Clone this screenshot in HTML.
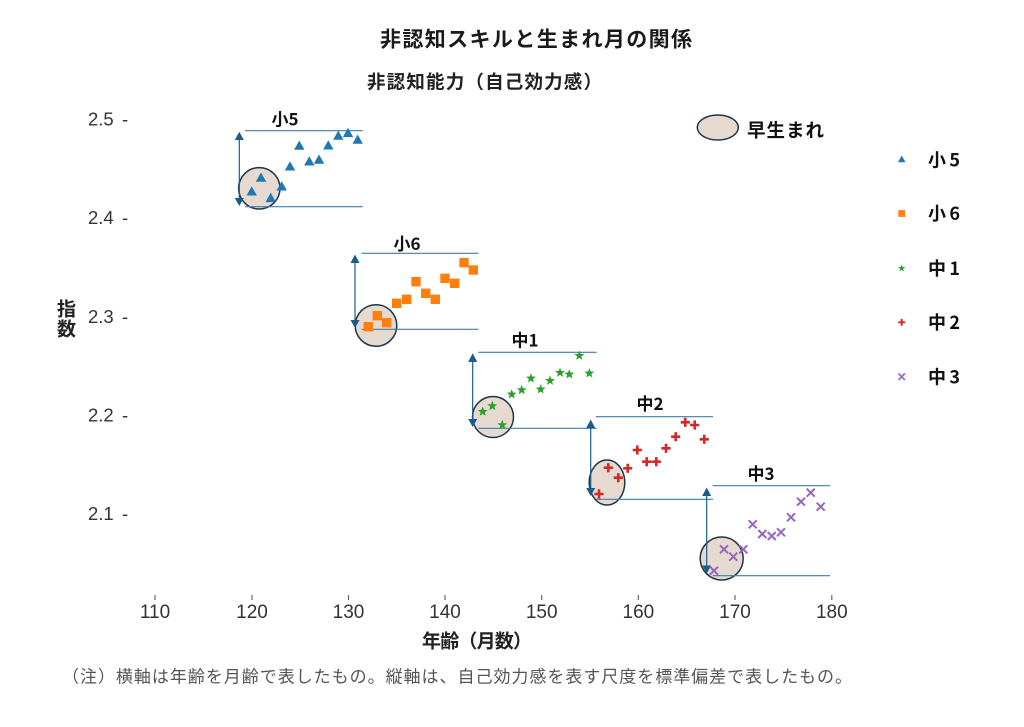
<!DOCTYPE html>
<html>
<head>
<meta charset="utf-8">
<style>
html,body{margin:0;padding:0;background:#fff;}
svg{display:block;}
text{font-family:"Liberation Sans","Noto Sans CJK JP",sans-serif;}
.cjk{font-family:"Noto Sans CJK JP","Liberation Sans",sans-serif;}
</style>
</head>
<body>
<svg width="1024" height="727" viewBox="0 0 1024 727" xmlns="http://www.w3.org/2000/svg">
<defs>
  <path id="tri" d="M0,-5.5 L5.2,3.8 L-5.2,3.8Z" fill="#1f77b4"/>
  <rect id="sq" x="-4.7" y="-4.7" width="9.4" height="9.4" fill="#ff7f0e"/>
  <polygon id="star" points="0,-5.2 1.29,-1.78 4.95,-1.61 2.09,0.68 3.06,4.21 0,2.2 -3.06,4.21 -2.09,0.68 -4.95,-1.61 -1.29,-1.78" fill="#2ca02c"/>
  <path id="plus" d="M-4.6,0 H4.6 M0,-4.6 V4.6" stroke="#d62728" stroke-width="2.6" fill="none"/>
  <path id="xx" d="M-4,-4 L4,4 M-4,4 L4,-4" stroke="#9467bd" stroke-width="2" fill="none"/>
</defs>
<rect width="1024" height="727" fill="#fff"/>

<!-- Titles -->
<text class="cjk" x="380" y="46.5" font-size="21" font-weight="bold" fill="#1a1a1a" textLength="312" lengthAdjust="spacing">非認知スキルと生まれ月の関係</text>
<text class="cjk" x="367" y="88.5" font-size="18.5" font-weight="bold" fill="#222" textLength="235" lengthAdjust="spacing">非認知能力（自己効力感）</text>

<!-- Y axis -->
<g font-size="18.5" fill="#333">
  <text x="88" y="125.5">2.5</text><text x="122" y="125.5">-</text>
  <text x="88" y="223.8">2.4</text><text x="122" y="223.8">-</text>
  <text x="88" y="323">2.3</text><text x="122" y="323">-</text>
  <text x="88" y="421.5">2.2</text><text x="122" y="421.5">-</text>
  <text x="88" y="519.8">2.1</text><text x="122" y="519.8">-</text>
</g>
<text class="cjk" x="57" y="315.5" font-size="19" font-weight="bold" fill="#222">指</text>
<text class="cjk" x="57" y="335.5" font-size="19" font-weight="bold" fill="#222">数</text>

<!-- X axis -->
<g stroke="#666" stroke-width="1.2">
  <line x1="155" y1="595" x2="155" y2="600"/>
  <line x1="252" y1="595" x2="252" y2="600"/>
  <line x1="348.5" y1="595" x2="348.5" y2="600"/>
  <line x1="445" y1="595" x2="445" y2="600"/>
  <line x1="541.7" y1="595" x2="541.7" y2="600"/>
  <line x1="638.4" y1="595" x2="638.4" y2="600"/>
  <line x1="735" y1="595" x2="735" y2="600"/>
  <line x1="831.8" y1="595" x2="831.8" y2="600"/>
</g>
<g font-size="19" fill="#333" text-anchor="middle">
  <text x="155" y="618">110</text>
  <text x="252" y="618">120</text>
  <text x="348.5" y="618">130</text>
  <text x="445" y="618">140</text>
  <text x="541.7" y="618">150</text>
  <text x="638.4" y="618">160</text>
  <text x="735" y="618">170</text>
  <text x="831.8" y="618">180</text>
</g>
<text class="cjk" x="422" y="647.5" font-size="19" font-weight="bold" fill="#222" textLength="110" lengthAdjust="spacing">年齢（月数）</text>
<text class="cjk" x="62" y="682.5" font-size="17" fill="#555" textLength="790" lengthAdjust="spacing">（注）横軸は年齢を月齢で表したもの。縦軸は、自己効力感を表す尺度を標準偏差で表したもの。</text>

<!-- Early-born circles -->
<g fill="#e6d9d0" stroke="#1e3548" stroke-width="1.5">
  <circle cx="259.3" cy="188.3" r="20.7"/>
  <circle cx="376" cy="325.5" r="20.8"/>
  <circle cx="493" cy="417" r="20.5"/>
  <ellipse cx="607" cy="482.5" rx="17.8" ry="22.5"/>
  <circle cx="721.7" cy="558.5" r="21.5"/>
</g>

<!-- Range lines -->
<g stroke="#3f7fa8" stroke-width="1.1">
  <line x1="245" y1="130.7" x2="362.7" y2="130.7"/>
  <line x1="245" y1="206.7" x2="362.7" y2="206.7"/>
  <line x1="361.7" y1="253.3" x2="478.3" y2="253.3"/>
  <line x1="361.7" y1="329.3" x2="478.3" y2="329.3"/>
  <line x1="478.3" y1="352.3" x2="596.7" y2="352.3"/>
  <line x1="478.3" y1="428.3" x2="596.7" y2="428.3"/>
  <line x1="596" y1="416.7" x2="713" y2="416.7"/>
  <line x1="596" y1="499.3" x2="713" y2="499.3"/>
  <line x1="712.7" y1="485.7" x2="830" y2="485.7"/>
  <line x1="712.7" y1="575.7" x2="830" y2="575.7"/>
</g>

<!-- Arrows -->
<g stroke="#1a5b87" stroke-width="1.2" fill="#1a5b87">
  <line x1="239.3" y1="136" x2="239.3" y2="201"/>
  <polygon stroke="none" points="239.3,131.7 234.8,140 243.8,140"/>
  <polygon stroke="none" points="239.3,206 234.8,198 243.8,198"/>

  <line x1="355" y1="259" x2="355" y2="323"/>
  <polygon stroke="none" points="355,254.5 350.5,263 359.5,263"/>
  <polygon stroke="none" points="355,328 350.5,320 359.5,320"/>

  <line x1="472.7" y1="358" x2="472.7" y2="422"/>
  <polygon stroke="none" points="472.7,353.3 468.2,362 477.2,362"/>
  <polygon stroke="none" points="472.7,427 468.2,419 477.2,419"/>

  <line x1="590.7" y1="424" x2="590.7" y2="492"/>
  <polygon stroke="none" points="590.7,419.5 586.2,428 595.2,428"/>
  <polygon stroke="none" points="590.7,496 586.2,488 595.2,488"/>

  <line x1="706.7" y1="492" x2="706.7" y2="569"/>
  <polygon stroke="none" points="706.7,487.5 702.2,496 711.2,496"/>
  <polygon stroke="none" points="706.7,573.5 702.2,565.5 711.2,565.5"/>
</g>

<!-- Group labels -->
<g font-size="17" font-weight="bold" fill="#111" text-anchor="middle">
  <text class="cjk" x="285" y="125.5">小5</text>
  <text class="cjk" x="407" y="250">小6</text>
  <text class="cjk" x="525" y="346.5">中1</text>
  <text class="cjk" x="650" y="410">中2</text>
  <text class="cjk" x="761" y="480">中3</text>
</g>

<!-- Series: 小5 -->
<g>
  <use href="#tri" x="251.7" y="191.7"/><use href="#tri" x="261" y="178"/><use href="#tri" x="270.7" y="198.3"/>
  <use href="#tri" x="281.7" y="186.7"/><use href="#tri" x="290" y="166.7"/><use href="#tri" x="299.3" y="146"/>
  <use href="#tri" x="309.3" y="161.7"/><use href="#tri" x="319" y="160"/><use href="#tri" x="328.3" y="145.7"/>
  <use href="#tri" x="338.3" y="136"/><use href="#tri" x="348" y="133.3"/><use href="#tri" x="357.7" y="140"/>
</g>
<!-- Series: 小6 -->
<g>
  <use href="#sq" x="368.3" y="326.7"/><use href="#sq" x="377.3" y="315.7"/><use href="#sq" x="386.7" y="322.7"/>
  <use href="#sq" x="396.7" y="303.3"/><use href="#sq" x="406.7" y="299.3"/><use href="#sq" x="416" y="281.7"/>
  <use href="#sq" x="425.7" y="293.3"/><use href="#sq" x="435.3" y="299.3"/><use href="#sq" x="445" y="278.3"/>
  <use href="#sq" x="454.7" y="283.3"/><use href="#sq" x="464" y="262.7"/><use href="#sq" x="473.3" y="270"/>
</g>
<!-- Series: 中1 -->
<g>
  <use href="#star" x="482.7" y="411.7"/><use href="#star" x="492.3" y="406"/><use href="#star" x="502.3" y="425"/>
  <use href="#star" x="511.7" y="394.3"/><use href="#star" x="521.7" y="390"/><use href="#star" x="531" y="378.3"/>
  <use href="#star" x="540.7" y="389.3"/><use href="#star" x="550" y="380.7"/><use href="#star" x="560" y="372.7"/>
  <use href="#star" x="569.3" y="374.3"/><use href="#star" x="579.3" y="355.7"/><use href="#star" x="589.3" y="373.3"/>
</g>
<!-- Series: 中2 -->
<g>
  <use href="#plus" x="599" y="494"/><use href="#plus" x="608.3" y="467.7"/><use href="#plus" x="618.3" y="477.7"/>
  <use href="#plus" x="627.7" y="468.3"/><use href="#plus" x="637.3" y="450"/><use href="#plus" x="646.7" y="461.7"/>
  <use href="#plus" x="656.3" y="461.7"/><use href="#plus" x="666" y="448.3"/><use href="#plus" x="675.7" y="436.7"/>
  <use href="#plus" x="685.3" y="422.3"/><use href="#plus" x="694.7" y="425"/><use href="#plus" x="704.3" y="439.3"/>
</g>
<!-- Series: 中3 -->
<g>
  <use href="#xx" x="714" y="570.7"/><use href="#xx" x="724" y="549.3"/><use href="#xx" x="733.3" y="556.7"/>
  <use href="#xx" x="743.3" y="549.3"/><use href="#xx" x="752.7" y="524.3"/><use href="#xx" x="762.3" y="534"/>
  <use href="#xx" x="771.7" y="536"/><use href="#xx" x="781" y="532.3"/><use href="#xx" x="791" y="517.3"/>
  <use href="#xx" x="801" y="501.7"/><use href="#xx" x="810.7" y="492.7"/><use href="#xx" x="820.7" y="506.7"/>
</g>

<!-- Legend: early-born -->
<ellipse cx="717.8" cy="127.5" rx="20.5" ry="12.5" fill="#e6d9d0" stroke="#1e3548" stroke-width="1.5"/>
<text class="cjk" x="747" y="137" font-size="18.5" font-weight="bold" fill="#111" textLength="77" lengthAdjust="spacing">早生まれ</text>

<!-- Legend: series -->
<g transform="translate(901.7,159.5) scale(0.72)"><use href="#tri"/></g>
<g transform="translate(901.7,213.5) scale(0.72)"><use href="#sq"/></g>
<g transform="translate(901.7,268.3) scale(0.72)"><use href="#star"/></g>
<g transform="translate(901.7,322.3) scale(0.75)"><use href="#plus"/></g>
<g transform="translate(901.7,376.7) scale(0.8)"><use href="#xx"/></g>
<g font-size="18" font-weight="bold" fill="#111">
  <text class="cjk" x="928" y="166.5" textLength="32" lengthAdjust="spacing">小 5</text>
  <text class="cjk" x="928" y="220" textLength="32" lengthAdjust="spacing">小 6</text>
  <text class="cjk" x="928" y="275" textLength="32" lengthAdjust="spacing">中 1</text>
  <text class="cjk" x="928" y="329" textLength="32" lengthAdjust="spacing">中 2</text>
  <text class="cjk" x="928" y="383.5" textLength="32" lengthAdjust="spacing">中 3</text>
</g>
</svg>
</body>
</html>
